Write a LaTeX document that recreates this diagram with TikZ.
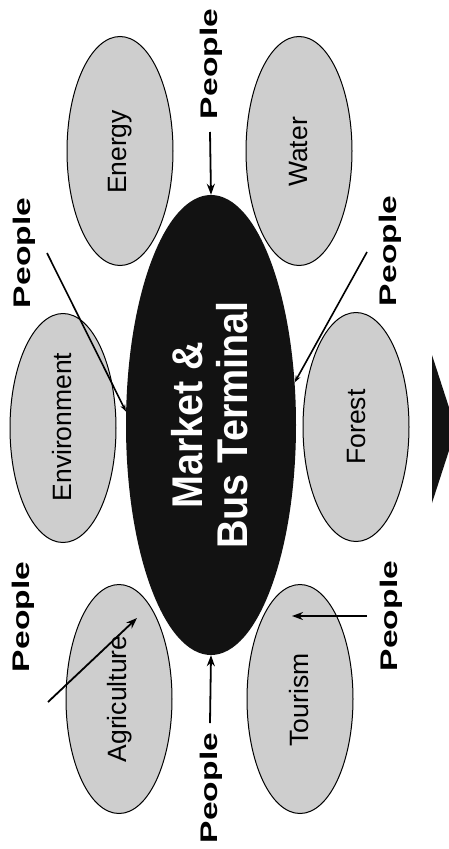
\documentclass[tikz,border=0pt]{standalone}
\usepackage{fontspec}
\setmainfont{Liberation Sans}
\usetikzlibrary{shapes.geometric,arrows.meta}
\definecolor{ellfill}{RGB}{206,206,206}
\definecolor{hub}{RGB}{18,18,18}
\tikzset{
  sector/.style={ellipse, draw=black, line width=1pt, fill=ellfill, inner sep=0pt,
     minimum width=106pt, minimum height=229pt},
  sectortext/.style={rotate=90, inner sep=0pt, font=\fontsize{26.5}{30}\selectfont},
  people/.style={rotate=90, inner sep=0pt, font=\fontsize{24}{28}\selectfont\bfseries},
  arr/.style={line width=1.8pt, -{Stealth[length=11pt,width=8pt]}},
  arrs/.style={line width=1.6pt, -{Stealth[length=7pt,width=5pt]}}
}
\newcommand{\ppl}{\scalebox{1.4}[1]{People}}
\begin{document}
\begin{tikzpicture}[x=1pt,y=-1pt]
\useasboundingbox (0,0) rectangle (449,849);
\clip (0,0) rectangle (449,849);
\fill[white] (0,0) rectangle (449,849);
% sector ellipses
\node[sector] (en) at (120,151) {};
\node[sector] (wa) at (299,151) {};
\node[sector] (ev) at (63,428) {};
\node[sector] (fo) at (356,427) {};
\node[sector] (ag) at (119,699) {};
\node[sector] (to) at (300,699) {};
\node[sectortext] (ent) at (120,152) {Energy};
\node[sectortext] (wat) at (299,152) {Water};
\node[sectortext] (evt) at (62,427) {Environment};
\node[sectortext] (fot) at (357,427) {Forest};
\node[sectortext] (agt) at (120,699) {Agriculture};
\node[sectortext] (tot) at (299,700) {Tourism};
% hub
\node[ellipse, fill=hub, inner sep=0pt, minimum width=170pt, minimum height=460pt] (c) at (211,425) {};
\node[rotate=90, inner sep=0pt, text=white, align=center,
      font=\fontsize{43}{45}\selectfont\bfseries] (ct) at (210,425)
      {\scalebox{0.92}[1]{Market \&}\\\scalebox{0.92}[1]{Bus Terminal}};
% people labels
\node[people] (pT) at (211,64) {\ppl};
\node[people] (pB) at (211,788) {\ppl};
\node[people] (pUL) at (24,253) {\ppl};
\node[people] (pUR) at (390,251) {\ppl};
\node[people] (pLL) at (23,617) {\ppl};
\node[people] (pLR) at (391,616) {\ppl};
% connector free ends
\coordinate (sT) at (210,132);
\coordinate (sB) at (210,723);
\coordinate (sUL) at (47,253);
\coordinate (sUR) at (367,252);
\coordinate (sLL) at (48,702);
\coordinate (eLL) at (137,618);
\coordinate (sLR) at (367,616);
\coordinate (eLR) at (292,616);
% connectors
\draw[arr] (sT) -- (c.north);
\draw[arr] (sB) -- (c.south);
\draw[arrs] (sUL) -- (c.171);
\draw[arrs] (sUR) -- (c.27);
\draw[arr] (sLL) -- (eLL);
\draw[arr] (sLR) -- (eLR);
% direction triangle
\fill[hub] (432,355) -- (432,503) -- (456,429) -- cycle;
\end{tikzpicture}
\end{document}
